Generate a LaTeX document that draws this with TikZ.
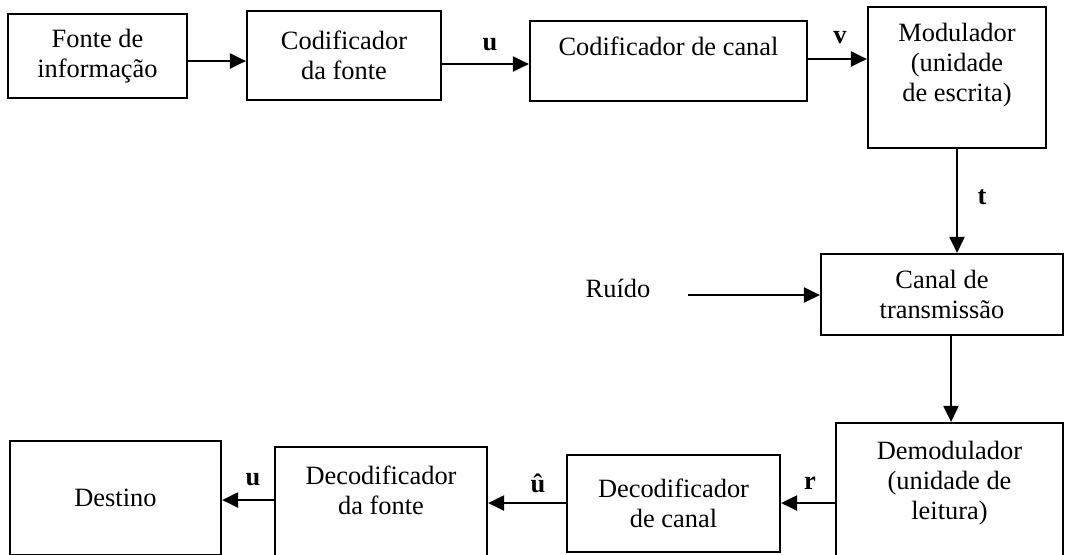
\documentclass[tikz,border=0pt]{standalone}
\usepackage{fontspec}
\setmainfont{Liberation Serif}
\usetikzlibrary{arrows.meta,positioning}

\begin{document}
\begin{tikzpicture}[x=0.5pt,y=-0.5pt,
  every node/.style={inner sep=0pt,font=\fontsize{13.2}{15}\selectfont},
  blockbox/.style={draw,line width=1.1pt,align=center},
  arr/.style={line width=1.1pt,-{Triangle[length=8pt,width=7.5pt]}},
  sig/.style={font=\fontsize{13.2}{15}\selectfont\bfseries}]
\useasboundingbox (0,0) rectangle (1068,554);
\node[blockbox,minimum width=89.5pt,minimum height=42pt] (fonte) at (97.5,56) {Fonte de\\informação};
\node[blockbox,minimum width=97pt,minimum height=44.5pt] (codfonte) at (344,55.5) {Codificador\\da fonte};
\node[blockbox,minimum width=138.5pt,minimum height=40pt] (codcanal) at (668.5,61) {Codificador de canal\\~};
\node[blockbox,minimum width=89pt,minimum height=70.5pt] (modul) at (957,77.5) {Modulador\\(unidade\\de escrita)\\~};
\node[blockbox,minimum width=121pt,minimum height=40.5pt] (canal) at (942,294.5) {Canal de\\transmissão};
\node (ruido) at (618,288) {Ruído};
\node[blockbox,minimum width=113.5pt,minimum height=72pt] (demod) at (949.5,495) {Demodulador\\(unidade de\\leitura)\\~};
\node[blockbox,minimum width=106.5pt,minimum height=48.5pt] (decanal) at (673.5,503.5) {Decodificador\\de canal};
\node[blockbox,minimum width=106pt,minimum height=58pt] (defonte) at (381,505) {Decodificador\\da fonte\\~};
\node[blockbox,minimum width=105.5pt,minimum height=57pt] (destino) at (115.5,498) {Destino};
\draw[arr] (fonte.east |- 0,61) -- (codfonte.west |- 0,61);
\draw[arr] (codfonte.east |- 0,64) -- (codcanal.west |- 0,64);
\node[sig] (lu) at (490,45) {u};
\draw[arr] (codcanal.east |- 0,59) -- (modul.west |- 0,59);
\node[sig] (lv) at (840,38) {v};
\draw[arr] (modul.south -| 957,0) -- (canal.north -| 957,0);
\node[sig] (lt) at (982,197) {t};
\draw[arr,shorten <=18.5pt] (ruido.east |- 0,295) -- (canal.west |- 0,295);
\draw[arr] (canal.south -| 951,0) -- (demod.north -| 951,0);
\draw[arr] (demod.west |- 0,503) -- (decanal.east |- 0,503);
\node[sig] (lr) at (810,483) {r};
\draw[arr] (decanal.west |- 0,503) -- (defonte.east |- 0,503);
\node[sig] (luhat) at (538,483) {û};
\draw[arr] (defonte.west |- 0,500) -- (destino.east |- 0,500);
\node[sig] (lu2) at (253,480) {u};
\end{tikzpicture}
\end{document}
